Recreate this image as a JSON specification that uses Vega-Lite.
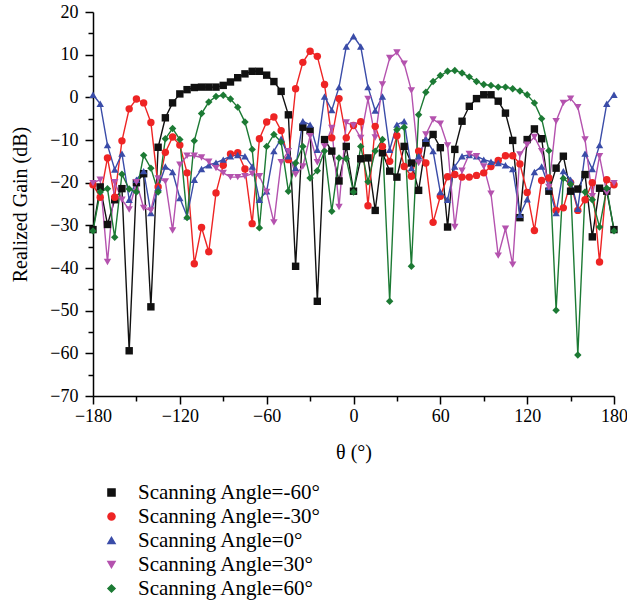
{
  "$schema": "https://vega.github.io/schema/vega-lite/v6.json",
  "width": 521,
  "height": 384,
  "autosize": "none",
  "padding": {"left": 93, "top": 12, "right": 13, "bottom": 207},
  "background": "white",
  "config": {
    "view": {"stroke": null},
    "font": "Liberation Serif",
    "axis": {
      "labelFont": "Liberation Serif", "titleFont": "Liberation Serif",
      "labelFontSize": 18, "titleFontSize": 20, "titleFontWeight": "normal",
      "labelColor": "#000", "titleColor": "#000",
      "domainColor": "#000", "tickColor": "#000", "domainWidth": 1.5, "tickWidth": 1.5,
      "grid": false, "labelFlush": false, "labelOverlap": false
    }
  },
  "data": {"values": [
    {"t":-180,"Scanning Angle=-60°":-31,"Scanning Angle=-30°":-20.5,"Scanning Angle=0°":0.6,"Scanning Angle=30°":-20.1,"Scanning Angle=60°":-31.3},
    {"t":-175,"Scanning Angle=-60°":-21,"Scanning Angle=-30°":-23.4,"Scanning Angle=0°":-1.5,"Scanning Angle=30°":-19.3,"Scanning Angle=60°":-22.2},
    {"t":-170,"Scanning Angle=-60°":-29.8,"Scanning Angle=-30°":-14.2,"Scanning Angle=0°":-11.2,"Scanning Angle=30°":-38.6,"Scanning Angle=60°":-21.4},
    {"t":-165,"Scanning Angle=-60°":-24,"Scanning Angle=-30°":-23.4,"Scanning Angle=0°":-16.9,"Scanning Angle=30°":-19.9,"Scanning Angle=60°":-32.8},
    {"t":-160,"Scanning Angle=-60°":-21.4,"Scanning Angle=-30°":-10.2,"Scanning Angle=0°":-13.2,"Scanning Angle=30°":-24,"Scanning Angle=60°":-18},
    {"t":-155,"Scanning Angle=-60°":-59.4,"Scanning Angle=-30°":-2.7,"Scanning Angle=0°":-24,"Scanning Angle=30°":-26.3,"Scanning Angle=60°":-21.5},
    {"t":-150,"Scanning Angle=-60°":-20,"Scanning Angle=-30°":-0.4,"Scanning Angle=0°":-19.3,"Scanning Angle=30°":-19.9,"Scanning Angle=60°":-22.2},
    {"t":-145,"Scanning Angle=-60°":-17.9,"Scanning Angle=-30°":-1.3,"Scanning Angle=0°":-17.3,"Scanning Angle=30°":-25.9,"Scanning Angle=60°":-13.6},
    {"t":-140,"Scanning Angle=-60°":-49.1,"Scanning Angle=-30°":-5.9,"Scanning Angle=0°":-27.1,"Scanning Angle=30°":-26.5,"Scanning Angle=60°":-16.6},
    {"t":-135,"Scanning Angle=-60°":-11.7,"Scanning Angle=-30°":-21,"Scanning Angle=0°":-21.2,"Scanning Angle=30°":-19,"Scanning Angle=60°":-22.2},
    {"t":-130,"Scanning Angle=-60°":-4.8,"Scanning Angle=-30°":-12.9,"Scanning Angle=0°":-16.2,"Scanning Angle=30°":-19.7,"Scanning Angle=60°":-9.7},
    {"t":-125,"Scanning Angle=-60°":-1.3,"Scanning Angle=-30°":-9.3,"Scanning Angle=0°":-17.5,"Scanning Angle=30°":-31.2,"Scanning Angle=60°":-7.3},
    {"t":-120,"Scanning Angle=-60°":0.8,"Scanning Angle=-30°":-11.2,"Scanning Angle=0°":-23.6,"Scanning Angle=30°":-15.8,"Scanning Angle=60°":-9.9},
    {"t":-115,"Scanning Angle=-60°":1.8,"Scanning Angle=-30°":-17.7,"Scanning Angle=0°":-27.9,"Scanning Angle=30°":-13.7,"Scanning Angle=60°":-28.2},
    {"t":-110,"Scanning Angle=-60°":2.3,"Scanning Angle=-30°":-39,"Scanning Angle=0°":-19.3,"Scanning Angle=30°":-13.7,"Scanning Angle=60°":-10.2},
    {"t":-105,"Scanning Angle=-60°":2.4,"Scanning Angle=-30°":-30.5,"Scanning Angle=0°":-16.8,"Scanning Angle=30°":-14.1,"Scanning Angle=60°":-3.8},
    {"t":-100,"Scanning Angle=-60°":2.4,"Scanning Angle=-30°":-36.2,"Scanning Angle=0°":-15.9,"Scanning Angle=30°":-15.1,"Scanning Angle=60°":-1.1},
    {"t":-95,"Scanning Angle=-60°":2.4,"Scanning Angle=-30°":-22.4,"Scanning Angle=0°":-15.3,"Scanning Angle=30°":-16.6,"Scanning Angle=60°":0.2},
    {"t":-90,"Scanning Angle=-60°":2.8,"Scanning Angle=-30°":-15.9,"Scanning Angle=0°":-14.6,"Scanning Angle=30°":-17.7,"Scanning Angle=60°":0.5},
    {"t":-85,"Scanning Angle=-60°":3.6,"Scanning Angle=-30°":-13.3,"Scanning Angle=0°":-13.8,"Scanning Angle=30°":-18.7,"Scanning Angle=60°":-0.4},
    {"t":-80,"Scanning Angle=-60°":4.6,"Scanning Angle=-30°":-13,"Scanning Angle=0°":-13.5,"Scanning Angle=30°":-18.7,"Scanning Angle=60°":-2.3},
    {"t":-75,"Scanning Angle=-60°":5.5,"Scanning Angle=-30°":-16.8,"Scanning Angle=0°":-13.8,"Scanning Angle=30°":-18.5,"Scanning Angle=60°":-5.8},
    {"t":-70,"Scanning Angle=-60°":6.1,"Scanning Angle=-30°":-29.6,"Scanning Angle=0°":-16.2,"Scanning Angle=30°":-17.9,"Scanning Angle=60°":-12.2},
    {"t":-65,"Scanning Angle=-60°":6.1,"Scanning Angle=-30°":-9.7,"Scanning Angle=0°":-24,"Scanning Angle=30°":-18.5,"Scanning Angle=60°":-30.6},
    {"t":-60,"Scanning Angle=-60°":5.2,"Scanning Angle=-30°":-5.8,"Scanning Angle=0°":-22,"Scanning Angle=30°":-22.2,"Scanning Angle=60°":-11.5},
    {"t":-55,"Scanning Angle=-60°":3.7,"Scanning Angle=-30°":-4.6,"Scanning Angle=0°":-12.6,"Scanning Angle=30°":-29.3,"Scanning Angle=60°":-8.7},
    {"t":-50,"Scanning Angle=-60°":1.4,"Scanning Angle=-30°":-7.8,"Scanning Angle=0°":-9.7,"Scanning Angle=30°":-15.2,"Scanning Angle=60°":-10.5},
    {"t":-45,"Scanning Angle=-60°":-4.1,"Scanning Angle=-30°":-14.6,"Scanning Angle=0°":-13.8,"Scanning Angle=30°":-12.6,"Scanning Angle=60°":-22},
    {"t":-40,"Scanning Angle=-60°":-39.6,"Scanning Angle=-30°":2,"Scanning Angle=0°":-16.6,"Scanning Angle=30°":-18.1,"Scanning Angle=60°":-15.4},
    {"t":-35,"Scanning Angle=-60°":-7,"Scanning Angle=-30°":8.2,"Scanning Angle=0°":-5.6,"Scanning Angle=30°":-16.2,"Scanning Angle=60°":-11.5},
    {"t":-30,"Scanning Angle=-60°":-7.8,"Scanning Angle=-30°":10.8,"Scanning Angle=0°":-6.4,"Scanning Angle=30°":-9.1,"Scanning Angle=60°":-18.9},
    {"t":-25,"Scanning Angle=-60°":-47.8,"Scanning Angle=-30°":9.6,"Scanning Angle=0°":-12.3,"Scanning Angle=30°":-15.2,"Scanning Angle=60°":-17.2},
    {"t":-20,"Scanning Angle=-60°":-9.9,"Scanning Angle=-30°":3,"Scanning Angle=0°":0.2,"Scanning Angle=30°":-11.5,"Scanning Angle=60°":-12.6},
    {"t":-15,"Scanning Angle=-60°":-12.6,"Scanning Angle=-30°":-9.5,"Scanning Angle=0°":-3,"Scanning Angle=30°":-7.2,"Scanning Angle=60°":-26.7},
    {"t":-10,"Scanning Angle=-60°":-19.6,"Scanning Angle=-30°":-0.3,"Scanning Angle=0°":2.4,"Scanning Angle=30°":-25.7,"Scanning Angle=60°":-14.2},
    {"t":-5,"Scanning Angle=-60°":-11.5,"Scanning Angle=-30°":-9.5,"Scanning Angle=0°":11.9,"Scanning Angle=30°":-5.9,"Scanning Angle=60°":-14.4},
    {"t":0,"Scanning Angle=-60°":-22,"Scanning Angle=-30°":-6.6,"Scanning Angle=0°":14.3,"Scanning Angle=30°":-6.6,"Scanning Angle=60°":-22.2},
    {"t":5,"Scanning Angle=-60°":-14.4,"Scanning Angle=-30°":-5.7,"Scanning Angle=0°":11.9,"Scanning Angle=30°":-9.5,"Scanning Angle=60°":-11.5},
    {"t":10,"Scanning Angle=-60°":-14.2,"Scanning Angle=-30°":-25.4,"Scanning Angle=0°":2.4,"Scanning Angle=30°":-0.4,"Scanning Angle=60°":-19.8},
    {"t":15,"Scanning Angle=-60°":-26.5,"Scanning Angle=-30°":-6.8,"Scanning Angle=0°":-3.1,"Scanning Angle=30°":-9.4,"Scanning Angle=60°":-12.6},
    {"t":20,"Scanning Angle=-60°":-13,"Scanning Angle=-30°":-11.5,"Scanning Angle=0°":0.2,"Scanning Angle=30°":3,"Scanning Angle=60°":-9.9},
    {"t":25,"Scanning Angle=-60°":-17.3,"Scanning Angle=-30°":-15,"Scanning Angle=0°":-12.3,"Scanning Angle=30°":9.2,"Scanning Angle=60°":-47.8},
    {"t":30,"Scanning Angle=-60°":-18.7,"Scanning Angle=-30°":-9,"Scanning Angle=0°":-6.4,"Scanning Angle=30°":10.5,"Scanning Angle=60°":-7.6},
    {"t":35,"Scanning Angle=-60°":-11.5,"Scanning Angle=-30°":-16.2,"Scanning Angle=0°":-5.6,"Scanning Angle=30°":7.9,"Scanning Angle=60°":-7},
    {"t":40,"Scanning Angle=-60°":-15.4,"Scanning Angle=-30°":-18.5,"Scanning Angle=0°":-16.6,"Scanning Angle=30°":1.6,"Scanning Angle=60°":-39.6},
    {"t":45,"Scanning Angle=-60°":-21.8,"Scanning Angle=-30°":-12.6,"Scanning Angle=0°":-13.8,"Scanning Angle=30°":-15.4,"Scanning Angle=60°":-4.1},
    {"t":50,"Scanning Angle=-60°":-10.7,"Scanning Angle=-30°":-15.4,"Scanning Angle=0°":-9.7,"Scanning Angle=30°":-8.7,"Scanning Angle=60°":1.2},
    {"t":55,"Scanning Angle=-60°":-8.7,"Scanning Angle=-30°":-29.3,"Scanning Angle=0°":-12.6,"Scanning Angle=30°":-5.2,"Scanning Angle=60°":3.7},
    {"t":60,"Scanning Angle=-60°":-11.8,"Scanning Angle=-30°":-23.2,"Scanning Angle=0°":-22.2,"Scanning Angle=30°":-6.2,"Scanning Angle=60°":5.1},
    {"t":65,"Scanning Angle=-60°":-30.4,"Scanning Angle=-30°":-18.6,"Scanning Angle=0°":-24,"Scanning Angle=30°":-11.3,"Scanning Angle=60°":6.1},
    {"t":70,"Scanning Angle=-60°":-12.2,"Scanning Angle=-30°":-18.1,"Scanning Angle=0°":-16.2,"Scanning Angle=30°":-30.4,"Scanning Angle=60°":6.3},
    {"t":75,"Scanning Angle=-60°":-5.6,"Scanning Angle=-30°":-18.7,"Scanning Angle=0°":-13.8,"Scanning Angle=30°":-17.2,"Scanning Angle=60°":5.7},
    {"t":80,"Scanning Angle=-60°":-2.1,"Scanning Angle=-30°":-18.7,"Scanning Angle=0°":-13.5,"Scanning Angle=30°":-13.3,"Scanning Angle=60°":4.8},
    {"t":85,"Scanning Angle=-60°":-0.3,"Scanning Angle=-30°":-18.3,"Scanning Angle=0°":-13.8,"Scanning Angle=30°":-13.8,"Scanning Angle=60°":3.7},
    {"t":90,"Scanning Angle=-60°":0.6,"Scanning Angle=-30°":-17.7,"Scanning Angle=0°":-14.6,"Scanning Angle=30°":-16.2,"Scanning Angle=60°":3},
    {"t":95,"Scanning Angle=-60°":0.6,"Scanning Angle=-30°":-16.2,"Scanning Angle=0°":-15.1,"Scanning Angle=30°":-22.6,"Scanning Angle=60°":2.8},
    {"t":100,"Scanning Angle=-60°":-0.9,"Scanning Angle=-30°":-14.8,"Scanning Angle=0°":-15.4,"Scanning Angle=30°":-37.1,"Scanning Angle=60°":2.4},
    {"t":105,"Scanning Angle=-60°":-3.7,"Scanning Angle=-30°":-13.7,"Scanning Angle=0°":-15.9,"Scanning Angle=30°":-30.8,"Scanning Angle=60°":2.4},
    {"t":110,"Scanning Angle=-60°":-10.1,"Scanning Angle=-30°":-13.7,"Scanning Angle=0°":-16.8,"Scanning Angle=30°":-39.2,"Scanning Angle=60°":2},
    {"t":115,"Scanning Angle=-60°":-28.2,"Scanning Angle=-30°":-15.6,"Scanning Angle=0°":-27.5,"Scanning Angle=30°":-13.4,"Scanning Angle=60°":1.5},
    {"t":120,"Scanning Angle=-60°":-9.9,"Scanning Angle=-30°":-22.3,"Scanning Angle=0°":-23.9,"Scanning Angle=30°":-11.1,"Scanning Angle=60°":0.6},
    {"t":125,"Scanning Angle=-60°":-7.4,"Scanning Angle=-30°":-31.2,"Scanning Angle=0°":-17.5,"Scanning Angle=30°":-9.3,"Scanning Angle=60°":-1.3},
    {"t":130,"Scanning Angle=-60°":-9.7,"Scanning Angle=-30°":-19.5,"Scanning Angle=0°":-16.2,"Scanning Angle=30°":-12.6,"Scanning Angle=60°":-5},
    {"t":135,"Scanning Angle=-60°":-22,"Scanning Angle=-30°":-18.9,"Scanning Angle=0°":-21,"Scanning Angle=30°":-21,"Scanning Angle=60°":-12.5},
    {"t":140,"Scanning Angle=-60°":-16.6,"Scanning Angle=-30°":-26.5,"Scanning Angle=0°":-27.1,"Scanning Angle=30°":-5.6,"Scanning Angle=60°":-49.9},
    {"t":145,"Scanning Angle=-60°":-13.8,"Scanning Angle=-30°":-25.9,"Scanning Angle=0°":-17.3,"Scanning Angle=30°":-1.3,"Scanning Angle=60°":-19},
    {"t":150,"Scanning Angle=-60°":-22,"Scanning Angle=-30°":-20,"Scanning Angle=0°":-19.3,"Scanning Angle=30°":-0.3,"Scanning Angle=60°":-20.4},
    {"t":155,"Scanning Angle=-60°":-21.5,"Scanning Angle=-30°":-26.5,"Scanning Angle=0°":-26.1,"Scanning Angle=30°":-2.3,"Scanning Angle=60°":-60.4},
    {"t":160,"Scanning Angle=-60°":-18.1,"Scanning Angle=-30°":-24,"Scanning Angle=0°":-13.2,"Scanning Angle=30°":-9.9,"Scanning Angle=60°":-22.2},
    {"t":165,"Scanning Angle=-60°":-32.7,"Scanning Angle=-30°":-20,"Scanning Angle=0°":-16.8,"Scanning Angle=30°":-23.2,"Scanning Angle=60°":-24},
    {"t":170,"Scanning Angle=-60°":-21.3,"Scanning Angle=-30°":-38.6,"Scanning Angle=0°":-11.2,"Scanning Angle=30°":-13.8,"Scanning Angle=60°":-30.4},
    {"t":175,"Scanning Angle=-60°":-22,"Scanning Angle=-30°":-19.3,"Scanning Angle=0°":-1.5,"Scanning Angle=30°":-22.4,"Scanning Angle=60°":-21.3},
    {"t":180,"Scanning Angle=-60°":-31,"Scanning Angle=-30°":-20.5,"Scanning Angle=0°":0.6,"Scanning Angle=30°":-20.1,"Scanning Angle=60°":-31.3}
  ]},
  "transform": [
    {"fold": ["Scanning Angle=-60°","Scanning Angle=-30°","Scanning Angle=0°","Scanning Angle=30°","Scanning Angle=60°"], "as": ["series","gain"]}
  ],
  "encoding": {
    "x": {
      "field": "t", "type": "quantitative",
      "scale": {"domain": [-180, 180], "nice": false, "zero": false},
      "axis": {
        "title": "θ (°)",
        "values": [-180,-150,-120,-90,-60,-30,0,30,60,90,120,150,180],
        "format": "d",
        "labelExpr": "datum.value % 60 === 0 ? datum.label : ''",
        "tickSize": {"condition": {"test": "datum.value % 60 === 0", "value": 8}, "value": 5},
        "labelPadding": 3,
        "titlePadding": 17
      }
    },
    "y": {
      "field": "gain", "type": "quantitative",
      "scale": {"domain": [-70, 20], "nice": false, "zero": false},
      "axis": {
        "title": "Realized Gain (dB)",
        "values": [-70,-65,-60,-55,-50,-45,-40,-35,-30,-25,-20,-15,-10,-5,0,5,10,15,20],
        "format": "d",
        "labelExpr": "datum.value % 10 === 0 ? datum.label : ''",
        "tickSize": {"condition": {"test": "datum.value % 10 === 0", "value": 8}, "value": 5},
        "labelPadding": 7,
        "titlePadding": 19
      }
    },
    "color": {
      "field": "series", "type": "nominal",
      "scale": {
        "domain": ["Scanning Angle=-60°","Scanning Angle=-30°","Scanning Angle=0°","Scanning Angle=30°","Scanning Angle=60°"],
        "range": ["#111111","#ee2424","#3a4ca8","#b452ae","#1c7a34"]
      },
      "legend": {
        "title": null,
        "orient": "none",
        "legendX": 8,
        "legendY": 470,
        "padding": 0,
        "symbolSize": 50,
        "symbolStrokeWidth": 1.5,
        "labelFont": "Liberation Serif",
        "labelFontSize": 21,
        "labelColor": "#000",
        "labelOffset": 16,
        "labelLimit": 400,
        "rowPadding": 2
      }
    }
  },
  "layer": [
    {"mark": {"type": "line", "strokeWidth": 1.4}},
    {
      "mark": {"type": "point", "filled": true, "size": 55, "opacity": 1},
      "encoding": {
        "shape": {
          "field": "series", "type": "nominal",
          "scale": {
            "domain": ["Scanning Angle=-60°","Scanning Angle=-30°","Scanning Angle=0°","Scanning Angle=30°","Scanning Angle=60°"],
            "range": ["square","circle","triangle-up","triangle-down","diamond"]
          },
          "legend": null
        }
      }
    }
  ]
}
